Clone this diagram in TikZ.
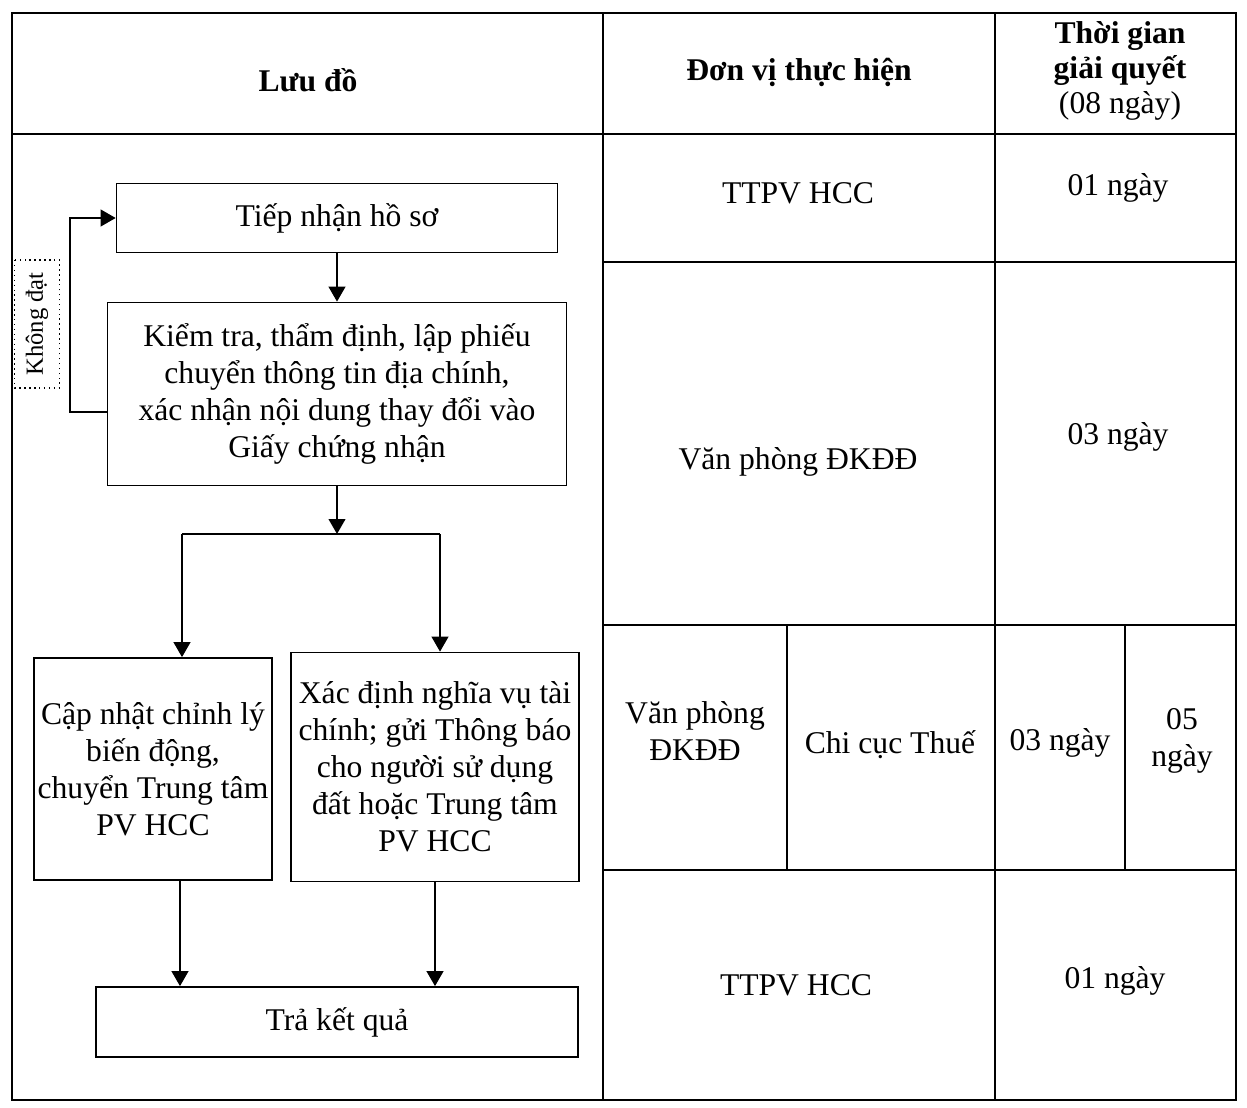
\documentclass[tikz,border=0pt]{standalone}
\usepackage{fontspec}
\setmainfont{Liberation Serif}
\usetikzlibrary{arrows.meta}
\begin{document}
\begin{tikzpicture}[
  x=0.02cm, y=-0.02cm,
  line width=1pt,
  every node/.style={font=\fontsize{18}{21}\selectfont, align=center},
  box/.style={draw, inner sep=2pt},
  head/.style={font=\fontsize{18}{21}\selectfont\bfseries},
  flow/.style={-{Triangle[width=9.5pt,length=8.5pt]}},
  note/.style={draw, dotted, line width=0.8pt, rotate=90, font=\fontsize{14}{16}\selectfont,
    minimum width=2.56cm, minimum height=0.9cm, inner sep=1pt}
]
\useasboundingbox (0,0) rectangle (1247,1108);
\draw (12,13) rectangle (1236,1100);
\draw (12,134) -- (1236,134);
\draw (603,13) -- (603,1100);
\draw (995,13) -- (995,1100);
\draw (603,262) -- (1236,262);
\draw (603,625) -- (1236,625);
\draw (603,870) -- (1236,870);
\draw (787,625) -- (787,870);
\draw (1125,625) -- (1125,870);
\node[head] (h1) at (308,80) {Lưu đồ};
\node[head] (h2) at (799,72) {Đơn vị thực hiện};
\node[font=\fontsize{18}{20}\selectfont] (h3) at (1120,71) {\textbf{Thời gian}\\\textbf{giải quyết}\\(08 ngày)};
\node (u1) at (798,193) {TTPV HCC};
\node (t1) at (1118,188) {01 ngày};
\node (u2) at (798,462) {Văn phòng ĐKĐĐ};
\node (t2) at (1118,437) {03 ngày};
\node (u3) at (695,731) {Văn phòng\\ĐKĐĐ};
\node (u4) at (890,745) {Chi cục Thuế};
\node (t3) at (1060,743) {03 ngày};
\node (t4) at (1182,741) {05\\ngày};
\node (u5) at (796,985) {TTPV HCC};
\node (t5) at (1115,981) {01 ngày};
\node[box, minimum width=8.82cm, minimum height=1.38cm] (recv) at (337,218) {Tiếp nhận hồ sơ};
\node[box, minimum width=9.18cm, minimum height=3.66cm] (check) at (337,394)
  {Kiểm tra, thẩm định, lập phiếu\\chuyển thông tin địa chính,\\xác nhận nội dung thay đổi vào\\Giấy chứng nhận};
\node[box, minimum width=4.76cm, minimum height=4.44cm] (update) at (153,769)
  {Cập nhật chỉnh lý\\biến động,\\chuyển Trung tâm\\PV HCC};
\node[box, minimum width=5.76cm, minimum height=4.58cm] (tax) at (435,767)
  {Xác định nghĩa vụ tài\\chính; gửi Thông báo\\cho người sử dụng\\đất hoặc Trung tâm\\PV HCC};
\node[box, minimum width=9.64cm, minimum height=1.4cm] (result) at (337,1022) {Trả kết quả};
\node[note] (fail) at (37,324) {Không đạt};
\coordinate (loop) at (70,300);
\coordinate (bl) at (182,534);
\coordinate (br) at (440,534);
\draw[flow] (recv) -- (check);
\draw[flow] ([yshift=-0.36cm]check.west) -| (loop) |- (recv.west);
\draw[flow] (check.south) -- (check.south |- bl);
\draw (bl) -- (br);
\draw[flow] (bl) -- (bl |- update.north);
\draw[flow] (br) -- (br |- tax.north);
\draw[flow] ([xshift=0.54cm]update.south) -- ([xshift=0.54cm]update.south |- result.north);
\draw[flow] (tax.south) -- (tax.south |- result.north);
\end{tikzpicture}
\end{document}
